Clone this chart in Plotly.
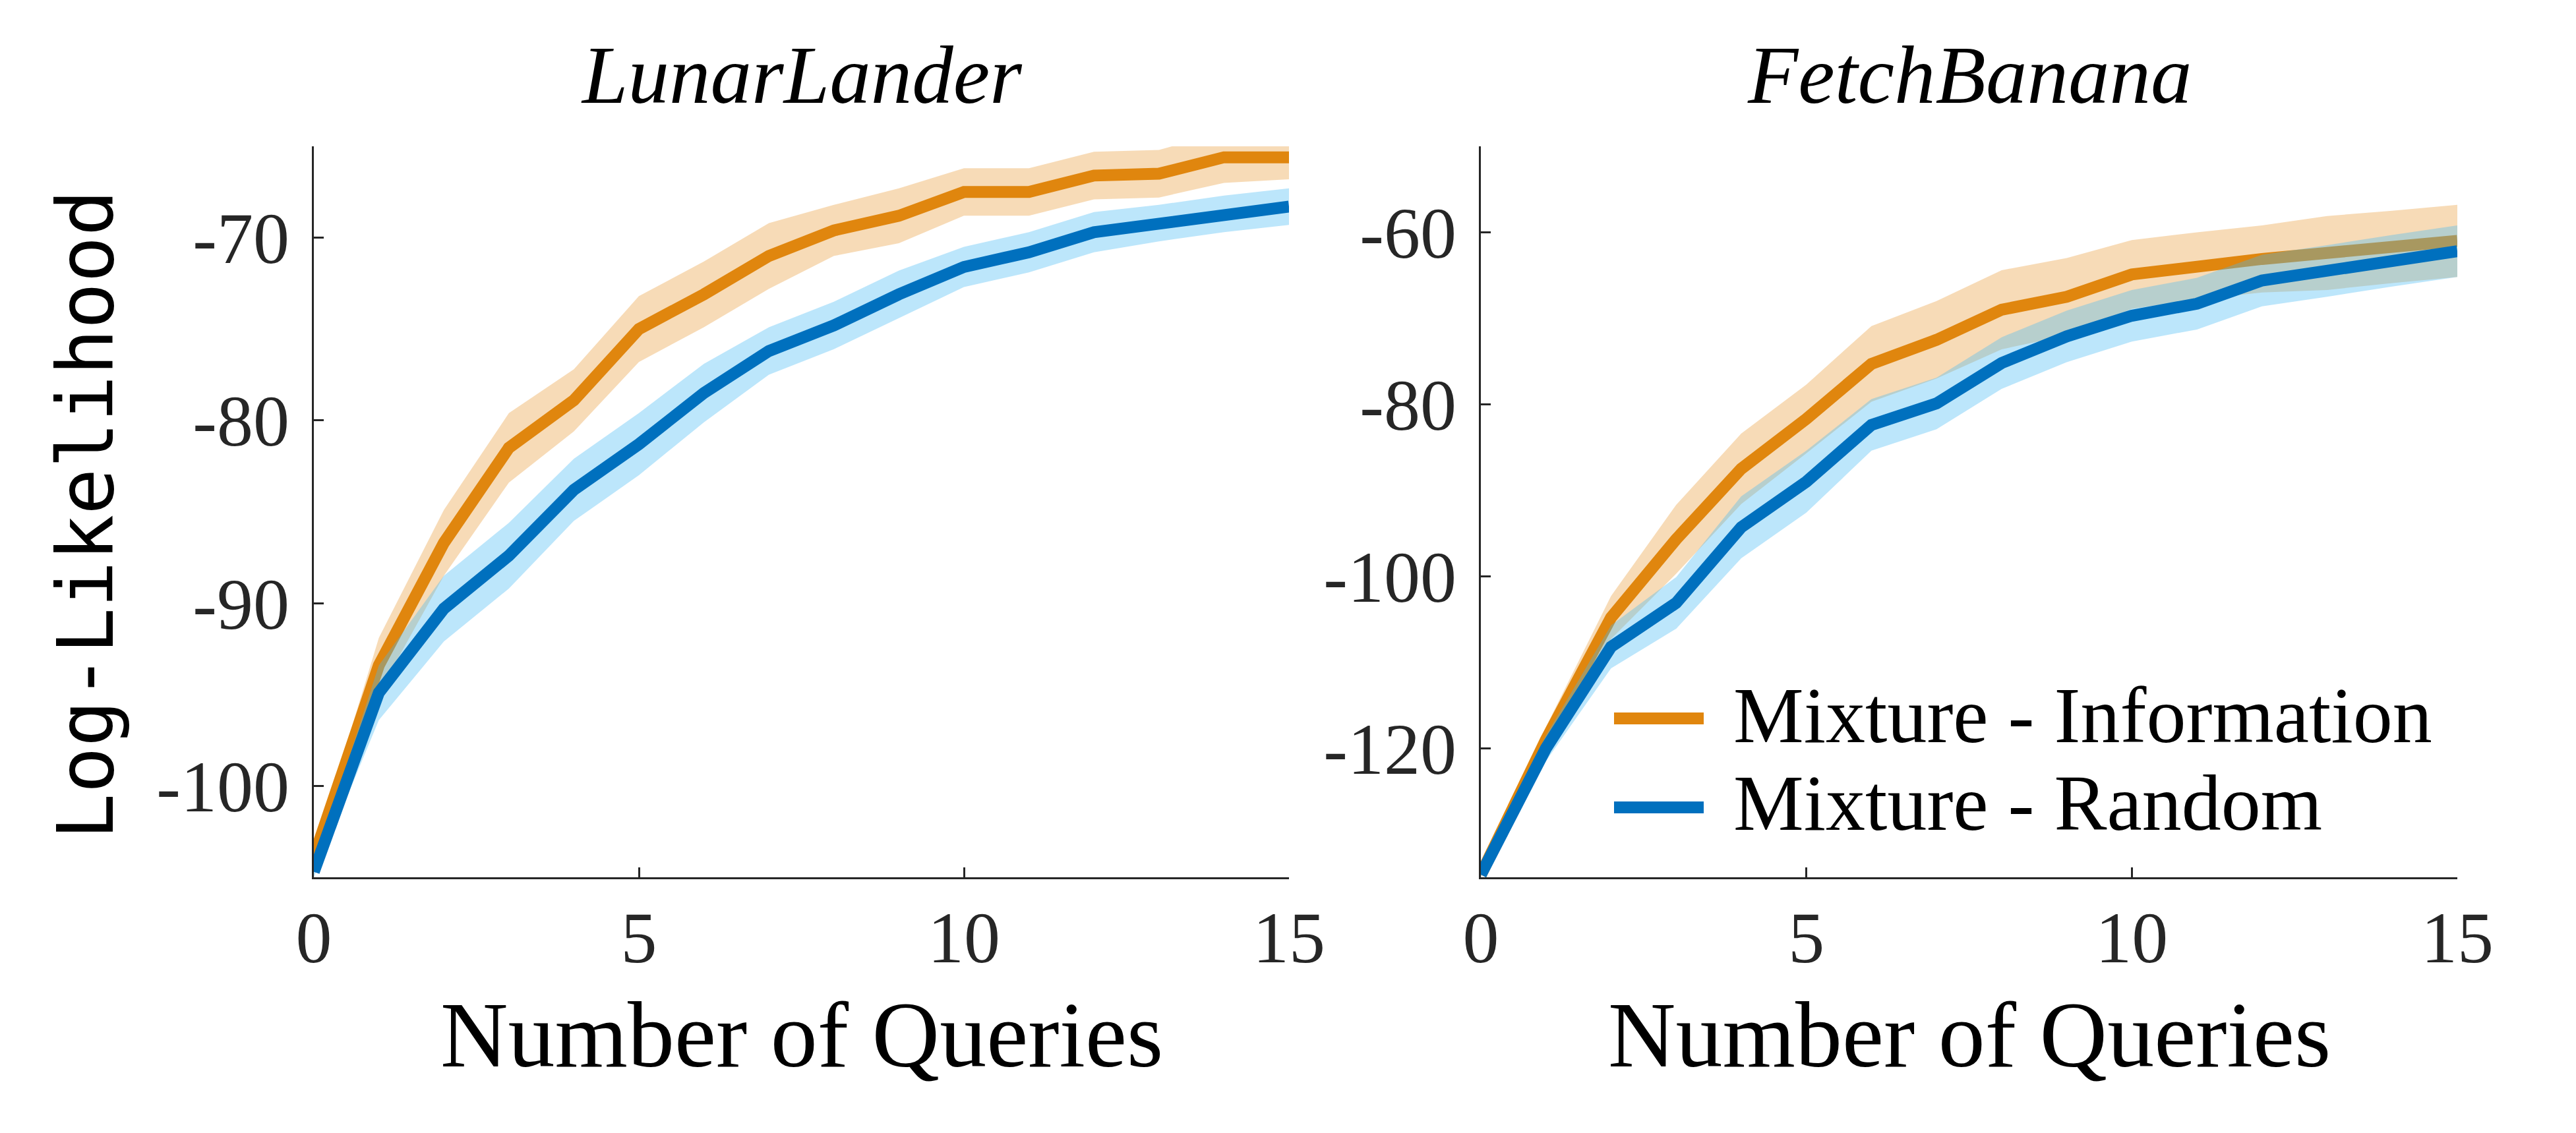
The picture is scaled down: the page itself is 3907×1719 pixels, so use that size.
import plotly.graph_objects as go

# ---------------- data ----------------
queries = list(range(16))

lunar_info_mean = [-103.9, -93.4, -86.7, -81.5, -78.9, -75.0, -73.1, -71.0, -69.6, -68.8, -67.5, -67.5, -66.6, -66.5, -65.6, -65.6]
lunar_info_err = [0.3, 1.5, 1.8, 1.9, 1.7, 1.8, 1.8, 1.8, 1.4, 1.5, 1.3, 1.3, 1.3, 1.3, 1.4, 1.2]
lunar_rand_mean = [-104.7, -94.9, -90.3, -87.4, -83.8, -81.3, -78.5, -76.2, -74.8, -73.1, -71.6, -70.8, -69.7, -69.2, -68.7, -68.3]
lunar_rand_err = [0.3, 1.5, 1.8, 1.8, 1.7, 1.7, 1.6, 1.3, 1.3, 1.3, 1.1, 1.1, 1.1, 1.0, 1.0, 1.0]

fetch_info_mean = [-134.7, -119.0, -104.8, -95.7, -87.5, -81.7, -75.3, -72.5, -69.0, -67.5, -64.9, -63.9, -63.1, -62.4, -61.7, -61.0]
fetch_info_err = [0.3, 1.5, 2.5, 4.0, 4.1, 4.0, 4.4, 4.5, 4.6, 4.5, 4.0, 3.9, 3.9, 4.3, 4.2, 4.2]
fetch_rand_mean = [-134.7, -120.0, -108.2, -103.1, -94.3, -89.0, -82.4, -79.9, -75.2, -72.1, -69.7, -68.3, -65.6, -64.5, -63.3, -62.2]
fetch_rand_err = [0.3, 1.5, 2.5, 3.0, 3.6, 3.6, 3.0, 3.0, 3.0, 3.0, 3.0, 3.0, 3.0, 3.0, 3.0, 3.0]

x_ticks = [0, 5, 10, 15]
x_ticktext = ["0", "5", "10", "15"]
lunar_yticks = [-100, -90, -80, -70]
lunar_yticktext = ["-100", "-90", "-80", "-70"]
fetch_yticks = [-120, -100, -80, -60]
fetch_yticktext = ["-120", "-100", "-80", "-60"]

titles = ["LunarLander", "FetchBanana"]
series_names = ["Mixture - Information", "Mixture - Random"]
x_title = "Number of Queries"
y_title = "Log-Likelihood"

# ---------------- style ----------------
ORANGE = "#E0860E"
ORANGE_BAND = "rgba(227,136,18,0.30)"
BLUE = "#0070BE"
BLUE_BAND = "rgba(70,185,245,0.36)"
AXIS_COLOR = "#262626"
SERIF = "Liberation Serif"
MONO = "DejaVu Sans Mono"
LW = 18

fig = go.Figure()


def add_series(xref, yref, mean, err, line_color, band_color):
    upper = [m + e for m, e in zip(mean, err)]
    lower = [m - e for m, e in zip(mean, err)]
    fig.add_trace(go.Scatter(x=queries, y=upper, mode="lines", line=dict(width=0, color=band_color),
                             xaxis=xref, yaxis=yref, showlegend=False, hoverinfo="skip"))
    fig.add_trace(go.Scatter(x=queries, y=lower, mode="lines", line=dict(width=0, color=band_color),
                             fill="tonexty", fillcolor=band_color,
                             xaxis=xref, yaxis=yref, showlegend=False, hoverinfo="skip"))
    fig.add_trace(go.Scatter(x=queries, y=mean, mode="lines", line=dict(width=LW, color=line_color),
                             xaxis=xref, yaxis=yref, showlegend=False))


add_series("x", "y", lunar_info_mean, lunar_info_err, ORANGE, ORANGE_BAND)
add_series("x", "y", lunar_rand_mean, lunar_rand_err, BLUE, BLUE_BAND)
add_series("x2", "y2", fetch_info_mean, fetch_info_err, ORANGE, ORANGE_BAND)
add_series("x2", "y2", fetch_rand_mean, fetch_rand_err, BLUE, BLUE_BAND)

W, H = 3907, 1719
left1, right1 = 468 / W, 1947 / W
left2, right2 = 2238 / W, 3719 / W
top, bottom = 1 - 214 / H, 1 - 1323 / H

tickfont = dict(family=SERIF, size=110, color=AXIS_COLOR)
common_x = dict(range=[0, 15], tickvals=x_ticks, ticktext=x_ticktext, showline=True, linecolor=AXIS_COLOR,
                linewidth=3, ticks="inside", ticklen=15, tickwidth=3, tickcolor=AXIS_COLOR,
                showgrid=False, zeroline=False, tickfont=tickfont, ticklabelstandoff=-6,
                automargin=False, fixedrange=True)
common_y = dict(showline=True, linecolor=AXIS_COLOR, linewidth=3, ticks="inside", ticklen=15, tickwidth=3,
                tickcolor=AXIS_COLOR, showgrid=False, zeroline=False, tickfont=tickfont,
                ticklabelstandoff=12, automargin=False, fixedrange=True)

fig.update_layout(
    width=W, height=H,
    margin=dict(l=0, r=0, t=0, b=0, autoexpand=False),
    paper_bgcolor="white", plot_bgcolor="white",
    showlegend=False,
    xaxis=dict(domain=[left1, right1], anchor="y", **common_x),
    yaxis=dict(domain=[bottom, top], anchor="x", range=[-105, -65], tickvals=lunar_yticks,
               ticktext=lunar_yticktext, **common_y),
    xaxis2=dict(domain=[left2, right2], anchor="y2", **common_x),
    yaxis2=dict(domain=[bottom, top], anchor="x2", range=[-135, -50], tickvals=fetch_yticks,
                ticktext=fetch_yticktext, **common_y),
)

annotations = []
# subplot titles and x-axis titles
for t, (l, r) in zip(titles, [(left1, right1), (left2, right2)]):
    annotations.append(dict(text=t, x=(l + r) / 2, y=1 - 106 / H, xref="paper", yref="paper",
                            xanchor="center", yanchor="middle", showarrow=False,
                            font=dict(family=SERIF, size=125, color="black", style="italic")))
    annotations.append(dict(text=x_title, x=(l + r) / 2, y=1 - 1562 / H, xref="paper", yref="paper",
                            xanchor="center", yanchor="middle", showarrow=False,
                            font=dict(family=SERIF, size=142, color="black")))
# y title
annotations.append(dict(text=y_title, x=123 / W, y=1 - 773 / H, xref="paper", yref="paper",
                        xanchor="center", yanchor="middle", textangle=-90, showarrow=False,
                        font=dict(family=MONO, size=117, color="black")))

# legend (custom, inside right panel)
legend_rows = [(series_names[0], ORANGE, 1082, 1077), (series_names[1], BLUE, 1217, 1210)]
shapes = []
for name, col, ly, ty in legend_rows:
    shapes.append(dict(type="line", xref="paper", yref="paper", x0=2440 / W, x1=2576 / W,
                       y0=1 - ly / H, y1=1 - ly / H, line=dict(color=col, width=LW)))
    annotations.append(dict(text=name, x=2619 / W, y=1 - ty / H, xref="paper", yref="paper",
                            xanchor="left", yanchor="middle", showarrow=False,
                            font=dict(family=SERIF, size=120, color="black")))

fig.update_layout(annotations=annotations, shapes=shapes)

fig.write_html("out.html")
